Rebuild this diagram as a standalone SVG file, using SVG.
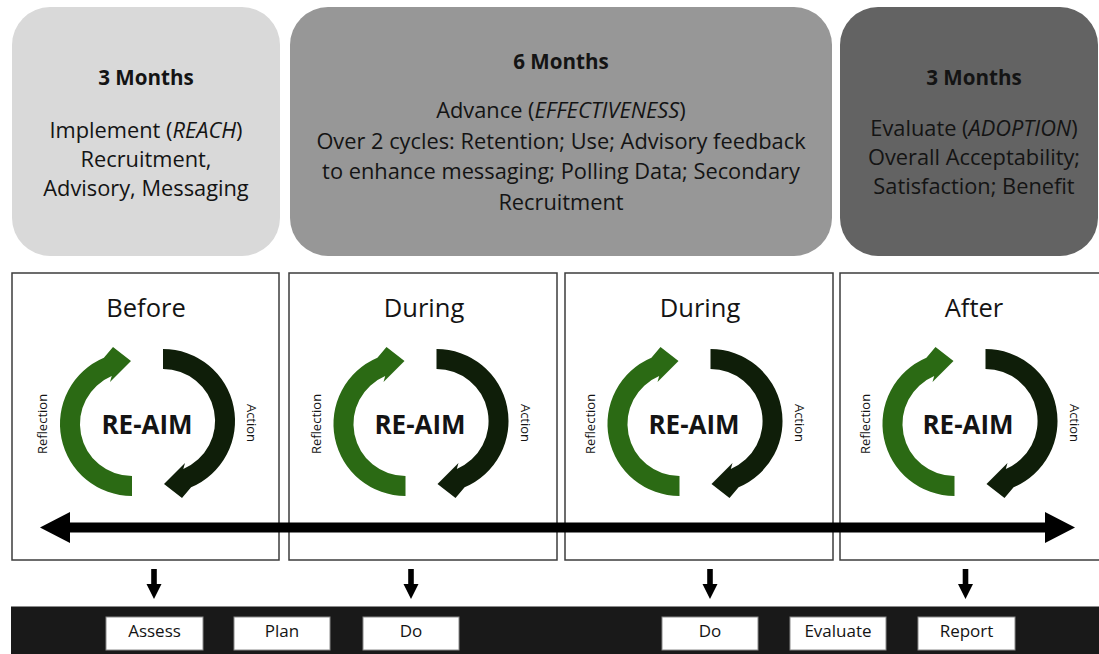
<svg xmlns="http://www.w3.org/2000/svg" width="1099" height="654" viewBox="0 0 1099 654">
<style>
 text{font-family:"Open Sans","Liberation Sans",sans-serif;fill:#141414}
 .hd{font-size:20.6px;font-weight:bold;text-anchor:middle}
 .bd{font-size:21.8px;text-anchor:middle}
 .ttl{font-size:25.5px;text-anchor:middle}
 .re{font-size:26px;font-weight:bold;text-anchor:middle}
 .side{font-size:13px;text-anchor:middle}
 .lbl{font-size:17px;text-anchor:middle}
 .frame{fill:#fff;stroke:#3c3c3c;stroke-width:1.5}
 .tag{fill:#fff;stroke:#8a8a8a;stroke-width:1}
 .green{fill:#2b6a14}
 .dark{fill:#0f1e09}
 .conn{fill:#000}
</style>
<defs>
 <path id="cyc" d="M0,72 A72,72 0 0 1 -28.1,-66.3 L-19,-77 L-1,-63 L-22,-42 L-20.3,-47.9 A52,52 0 0 0 0,52 Z"/>
 <path id="down" d="M-2.8,0 H2.8 V15 H7.5 L0,30 L-7.5,15 H-2.8 Z"/>
</defs>

<g id="phase-implement">
 <rect x="12" y="7" width="268" height="249" rx="38" fill="#d9d9d9"/>
 <text class="hd" x="146" y="85">3 Months</text>
 <text class="bd" x="146" y="137.5">Implement (<tspan font-style="italic">REACH</tspan>)</text>
 <text class="bd" x="146" y="166.5">Recruitment,</text>
 <text class="bd" x="146" y="195.5">Advisory, Messaging</text>
</g>
<g id="phase-advance">
 <rect x="290" y="7" width="542" height="249" rx="38" fill="#979797"/>
 <text class="hd" x="561" y="69">6 Months</text>
 <text class="bd" x="561" y="117.5">Advance (<tspan font-style="italic">EFFECTIVENESS</tspan>)</text>
 <text class="bd" x="561" y="148.5">Over 2 cycles: Retention; Use; Advisory feedback</text>
 <text class="bd" x="561" y="179">to enhance messaging; Polling Data; Secondary</text>
 <text class="bd" x="561" y="209.5">Recruitment</text>
</g>
<g id="phase-evaluate">
 <rect x="840" y="7" width="258" height="249" rx="38" fill="#636363"/>
 <text class="hd" x="974" y="85">3 Months</text>
 <text class="bd" x="974" y="135.5">Evaluate (<tspan font-style="italic">ADOPTION</tspan>)</text>
 <text class="bd" x="974" y="164.5">Overall Acceptability;</text>
 <text class="bd" x="974" y="194">Satisfaction; Benefit</text>
</g>

<g id="stage-before">
 <rect class="frame" x="12" y="273" width="267" height="287"/>
 <text class="ttl" x="146" y="317">Before</text>
 <use href="#cyc" class="green" transform="translate(132,424)"/>
 <use href="#cyc" class="dark" transform="translate(163,421) rotate(180)"/>
 <text class="re" x="147" y="434">RE-AIM</text>
 <text class="side" transform="translate(42.5,424) rotate(-90)" dy="4.5">Reflection</text>
 <text class="side" transform="translate(251.5,423) rotate(90)" dy="4.5">Action</text>
</g>
<g id="stage-during-1">
 <rect class="frame" x="289" y="273" width="268" height="287"/>
 <text class="ttl" x="424" y="317">During</text>
 <use href="#cyc" class="green" transform="translate(405.5,424)"/>
 <use href="#cyc" class="dark" transform="translate(436.5,421) rotate(180)"/>
 <text class="re" x="420" y="434">RE-AIM</text>
 <text class="side" transform="translate(316,424) rotate(-90)" dy="4.5">Reflection</text>
 <text class="side" transform="translate(525,423) rotate(90)" dy="4.5">Action</text>
</g>
<g id="stage-during-2">
 <rect class="frame" x="565" y="273" width="268" height="287"/>
 <text class="ttl" x="700" y="317">During</text>
 <use href="#cyc" class="green" transform="translate(679.5,424)"/>
 <use href="#cyc" class="dark" transform="translate(710.5,421) rotate(180)"/>
 <text class="re" x="694" y="434">RE-AIM</text>
 <text class="side" transform="translate(590,424) rotate(-90)" dy="4.5">Reflection</text>
 <text class="side" transform="translate(799,423) rotate(90)" dy="4.5">Action</text>
</g>
<g id="stage-after">
 <rect class="frame" x="840" y="273" width="268" height="287"/>
 <text class="ttl" x="974" y="317">After</text>
 <use href="#cyc" class="green" transform="translate(954.5,424)"/>
 <use href="#cyc" class="dark" transform="translate(985.5,421) rotate(180)"/>
 <text class="re" x="968" y="434">RE-AIM</text>
 <text class="side" transform="translate(865,424) rotate(-90)" dy="4.5">Reflection</text>
 <text class="side" transform="translate(1074,423) rotate(90)" dy="4.5">Action</text>
</g>

<g id="connectors">
 <rect class="conn" x="68" y="522.5" width="979" height="10"/>
 <polygon class="conn" points="40,527.5 70,512 70,543"/>
 <polygon class="conn" points="1075,527.5 1045,512 1045,543"/>
 <use href="#down" class="conn" transform="translate(154,569)"/>
 <use href="#down" class="conn" transform="translate(411,569)"/>
 <use href="#down" class="conn" transform="translate(710,569)"/>
 <use href="#down" class="conn" transform="translate(965.5,569)"/>
</g>

<g id="process-bar">
 <rect x="11" y="606.5" width="1090" height="48" fill="#191919"/>
</g>
<g id="step-assess"><rect class="tag" x="106" y="617" width="97" height="33"/><text class="lbl" x="154.5" y="637">Assess</text></g>
<g id="step-plan"><rect class="tag" x="234" y="617" width="96" height="33"/><text class="lbl" x="282" y="637">Plan</text></g>
<g id="step-do-1"><rect class="tag" x="363" y="617" width="96" height="33"/><text class="lbl" x="411" y="637">Do</text></g>
<g id="step-do-2"><rect class="tag" x="662" y="617" width="96" height="33"/><text class="lbl" x="710" y="637">Do</text></g>
<g id="step-evaluate"><rect class="tag" x="790" y="617" width="96" height="33"/><text class="lbl" x="838" y="637">Evaluate</text></g>
<g id="step-report"><rect class="tag" x="918" y="617" width="97" height="33"/><text class="lbl" x="966.5" y="637">Report</text></g>
</svg>
